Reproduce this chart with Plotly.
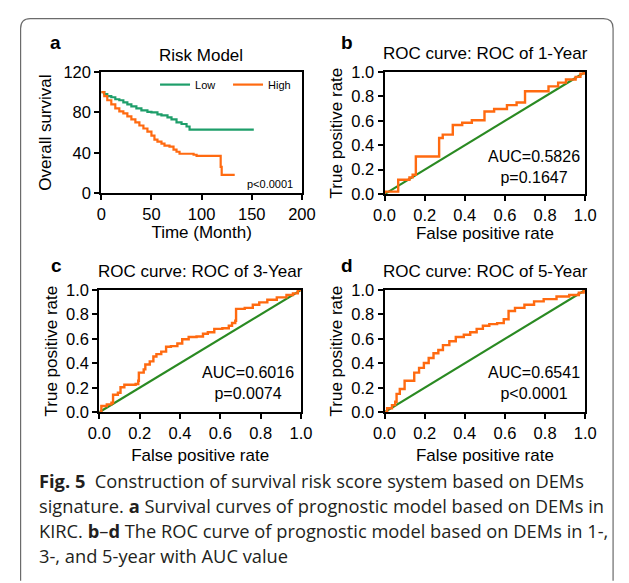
import plotly.graph_objects as go

W, H = 629, 583

# ---------------- data ----------------
low_time = [0, 3, 6, 10, 14, 18, 22, 26, 30, 35, 40, 46, 50, 56, 60, 66, 70, 75, 80, 85, 88, 152]
low_surv = [100, 98, 96, 95, 93, 92, 90, 88, 86, 84, 82, 80.5, 80, 78, 77, 75, 73, 70, 68.5, 66, 63, 63]
high_time = [0, 3, 6, 10, 14, 18, 22, 26, 30, 34, 38, 42, 46, 50, 53, 56, 60, 63, 68, 72, 75, 78, 92, 95, 118, 119, 120, 133]
high_surv = [100, 96, 92, 88, 84, 81, 79, 76, 73, 70, 67, 64, 61, 57, 53, 51, 49, 47, 46, 43, 41, 39, 38, 37, 37, 26, 18, 18]

b_fpr = [0, 0.0, 0.068, 0.124, 0.14, 0.156, 0.272, 0.29, 0.34, 0.387, 0.435, 0.498, 0.546, 0.61, 0.658, 0.70, 0.817, 0.865, 0.904, 0.952, 0.976, 0.995, 1.0]
b_tpr = [0, 0.02, 0.118, 0.137, 0.158, 0.308, 0.46, 0.487, 0.566, 0.584, 0.605, 0.676, 0.697, 0.729, 0.75, 0.842, 0.882, 0.913, 0.939, 0.96, 0.987, 1.0, 1.0]

c_fpr = [0, 0.01, 0.037, 0.06, 0.068, 0.092, 0.105, 0.124, 0.18, 0.193, 0.196, 0.22, 0.228, 0.25, 0.268, 0.283, 0.307, 0.331, 0.355, 0.387,
         0.411, 0.443, 0.482, 0.514, 0.538, 0.57, 0.61, 0.642, 0.658, 0.674, 0.678, 0.721, 0.761, 0.793, 0.833, 0.88, 0.928, 0.96, 0.984, 1.0]
c_tpr = [0, 0.05, 0.064, 0.077, 0.143, 0.159, 0.204, 0.225, 0.23, 0.257, 0.324, 0.35, 0.39, 0.416, 0.456, 0.475, 0.496, 0.536, 0.541, 0.562,
         0.597, 0.615, 0.62, 0.642, 0.655, 0.682, 0.687, 0.708, 0.73, 0.748, 0.846, 0.854, 0.88, 0.899, 0.92, 0.94, 0.96, 0.973, 1.0, 1.0]

d_fpr = [0, 0.013, 0.037, 0.053, 0.06, 0.076, 0.1, 0.132, 0.148, 0.172, 0.196, 0.22, 0.244, 0.268, 0.291, 0.323, 0.355, 0.395, 0.427, 0.459,
         0.49, 0.522, 0.561, 0.594, 0.618, 0.65, 0.697, 0.745, 0.793, 0.857, 0.92, 0.968, 0.992, 1.0]
d_tpr = [0, 0.032, 0.058, 0.085, 0.15, 0.19, 0.257, 0.257, 0.324, 0.363, 0.403, 0.443, 0.483, 0.509, 0.549, 0.581, 0.615, 0.634, 0.655, 0.682,
         0.708, 0.721, 0.729, 0.761, 0.828, 0.854, 0.88, 0.907, 0.926, 0.947, 0.96, 0.979, 1.0, 1.0]

diag = [0, 1]

panel_titles = ["Risk Model", "ROC curve: ROC of 1-Year", "ROC curve: ROC of 3-Year", "ROC curve: ROC of 5-Year"]
panel_letters = ["a", "b", "c", "d"]
auc_texts = ["AUC=0.5826<br>p=0.1647", "AUC=0.6016<br>p=0.0074", "AUC=0.6541<br>p<0.0001"]
km_p_text = "p<0.0001"

caption_lines = [
    "<b>Fig. 5</b>  Construction of survival risk score system based on DEMs",
    "signature. <b>a</b> Survival curves of prognostic model based on DEMs in",
    "KIRC. <b>b</b>–<b>d</b> The ROC curve of prognostic model based on DEMs in 1-,",
    "3-, and 5-year with AUC value",
]

# ---------------- styling ----------------
GREEN_KM = "#1E9E6A"
ORANGE = "#FF6A10"
GREEN_DIAG = "#2A8A22"
FONT = "Liberation Sans, Arial, sans-serif"
CAP_FONT = "Open Sans, Noto Sans, sans-serif"


def px_x(px):
    return px / W


def px_y(py):
    return 1 - py / H


# plot-area boxes in pixels: (left, right, top, bottom)
boxes = {
    "a": (94, 303, 65, 190),
    "b": (389, 598, 65, 191),
    "c": (92, 302, 290, 416),
    "d": (389, 598, 290, 416),
}

fig = go.Figure()

# Panel a - Kaplan-Meier
fig.add_trace(go.Scatter(x=low_time, y=low_surv, mode="lines", line=dict(color=GREEN_KM, width=2.2, shape="hv"),
                         name="Low", xaxis="x", yaxis="y"))
fig.add_trace(go.Scatter(x=high_time, y=high_surv, mode="lines", line=dict(color=ORANGE, width=2.2, shape="hv"),
                         name="High", xaxis="x", yaxis="y"))

rocs = [(b_fpr, b_tpr, "2"), (c_fpr, c_tpr, "3"), (d_fpr, d_tpr, "4")]
for fpr, tpr, k in rocs:
    fig.add_trace(go.Scatter(x=diag, y=diag, mode="lines", line=dict(color=GREEN_DIAG, width=2.2),
                             showlegend=False, xaxis="x" + k, yaxis="y" + k))
    fig.add_trace(go.Scatter(x=fpr, y=tpr, mode="lines", line=dict(color=ORANGE, width=2.4, shape="hv"),
                             showlegend=False, xaxis="x" + k, yaxis="y" + k))

axis_common = dict(showline=True, linewidth=2, linecolor="black", mirror=True, ticks="outside",
                   ticklen=5, tickwidth=2, tickcolor="black", showgrid=False, zeroline=False,
                   tickfont=dict(family=FONT, size=16.5, color="black"),
                   title_font=dict(family=FONT, size=17, color="black"))

layout_axes = {}
keys = ["a", "b", "c", "d"]
for i, key in enumerate(keys):
    l, r, t, b = boxes[key]
    sx = "" if i == 0 else str(i + 1)
    xa = dict(axis_common, domain=[px_x(l), px_x(r)], anchor="y" + sx)
    ya = dict(axis_common, domain=[px_y(b), px_y(t)], anchor="x" + sx)
    if key == "a":
        xa.update(range=[0, 200], tickvals=[0, 50, 100, 150, 200], title=dict(text="Time (Month)", standoff=4))
        ya.update(range=[0, 120], tickvals=[0, 40, 80, 120], title=dict(text="Overall survival", standoff=7))
    else:
        xa.update(range=[0, 1], tickvals=[0, 0.2, 0.4, 0.6, 0.8, 1.0], tickformat=".1f",
                  title=dict(text="False positive rate", standoff=4 if key == "b" else 8))
        ya.update(range=[0, 1], tickvals=[0, 0.2, 0.4, 0.6, 0.8, 1.0], tickformat=".1f",
                  title=dict(text="True positive rate", standoff=4))
    layout_axes["xaxis" + sx] = xa
    layout_axes["yaxis" + sx] = ya

annotations = []
# panel titles and letters
title_pos = {"a": (198, 48), "b": (494, 46), "c": (197, 271), "d": (494, 271)}
letter_pos = {"a": (46, 35), "b": (350, 35), "c": (47, 265), "d": (350, 265)}
for key, ttl in zip(keys, panel_titles):
    tx, ty = title_pos[key]
    annotations.append(dict(text=ttl, x=px_x(tx), y=px_y(ty), xref="paper", yref="paper", showarrow=False,
                            xanchor="center", yanchor="middle", font=dict(family=FONT, size=17, color="black")))
    lx, ly = letter_pos[key]
    annotations.append(dict(text="<b>%s</b>" % key, x=px_x(lx), y=px_y(ly), xref="paper", yref="paper",
                            showarrow=False, xanchor="center", yanchor="middle",
                            font=dict(family=FONT, size=19, color="black")))

auc_pos = {"b": (545, 163), "c": (247, 386), "d": (545, 386)}
for key, txt in zip(["b", "c", "d"], auc_texts):
    ax, ay = auc_pos[key]
    annotations.append(dict(text=txt, x=px_x(ax), y=px_y(ay), xref="paper", yref="paper", showarrow=False,
                            xanchor="center", yanchor="middle", align="center",
                            font=dict(family=FONT, size=16, color="black")))

annotations.append(dict(text=km_p_text, x=px_x(296), y=px_y(181), xref="paper", yref="paper", showarrow=False,
                        xanchor="right", yanchor="middle", font=dict(family=FONT, size=11, color="black")))

cap_y = [487, 512, 538, 564]
for line, cy in zip(caption_lines, cap_y):
    annotations.append(dict(text=line, x=px_x(27), y=px_y(cy), xref="paper", yref="paper", showarrow=False,
                            xanchor="left", yanchor="middle", align="left",
                            font=dict(family=CAP_FONT, size=18.3, color="#231F20")))

# rounded frame around figure (cut at bottom)
def fp(x, y):
    return "%.5f,%.5f" % (px_x(x), px_y(y))

frame_path = ("M " + fp(10, 590) + " L " + fp(10, 20) + " Q " + fp(10, 10) + " " + fp(20, 10) +
              " L " + fp(617, 10) + " Q " + fp(627, 10) + " " + fp(627, 20) + " L " + fp(627, 590))

fig.update_layout(
    width=W, height=H,
    margin=dict(l=0, r=0, t=0, b=0),
    paper_bgcolor="white", plot_bgcolor="white",
    font=dict(family=FONT, color="black"),
    showlegend=True,
    legend=dict(orientation="h", x=px_x(150), y=px_y(78), xanchor="left", yanchor="middle",
                bgcolor="rgba(0,0,0,0)", font=dict(family=FONT, size=11, color="black"),
                itemwidth=30, tracegroupgap=0, entrywidth=28, entrywidthmode="pixels"),
    annotations=annotations,
    shapes=[dict(type="path", path=frame_path, xref="paper", yref="paper",
                 line=dict(color="#6b6b6b", width=1.2))],
    **layout_axes,
)

fig.write_html("out.html")
